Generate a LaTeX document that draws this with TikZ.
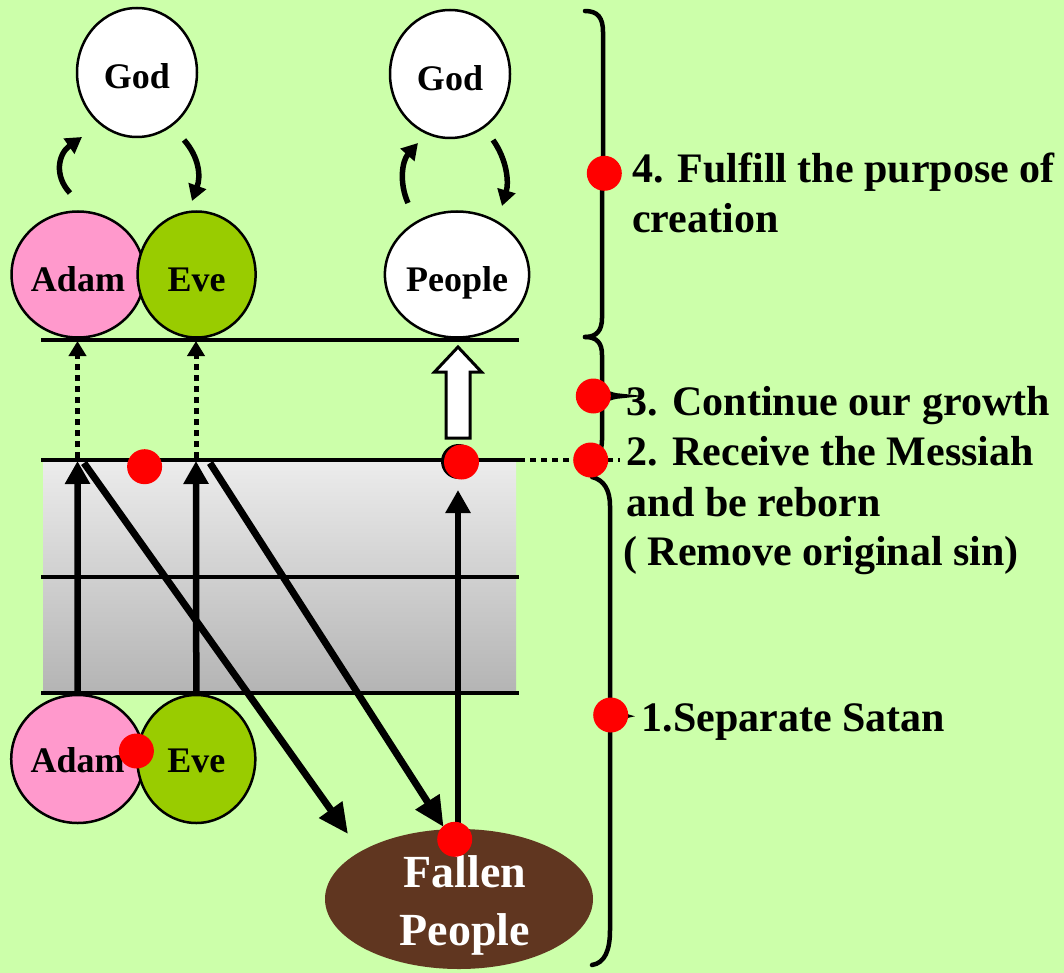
\documentclass[tikz,border=0pt]{standalone}
\usepackage{fontspec}
\setmainfont{Liberation Serif}
\usetikzlibrary{shapes.geometric,arrows.meta}
\definecolor{bg}{RGB}{204,255,170}
\definecolor{adampink}{RGB}{255,153,204}
\definecolor{evegreen}{RGB}{153,204,0}
\definecolor{fallenbrown}{RGB}{96,54,32}
\definecolor{bandtop}{RGB}{236,236,236}
\definecolor{bandbot}{RGB}{180,180,180}
\definecolor{dotred}{RGB}{255,0,0}
\tikzset{
  person/.style={ellipse, draw=black, line width=2.5pt, inner sep=0pt,
    minimum width=118pt, minimum height=126pt,
    font=\fontsize{36}{40}\selectfont\bfseries, text height=34pt, text depth=0pt},
  hline/.style={line width=4.5pt},
  curvearrow/.style={line width=5.5pt, -{Triangle[width=18pt,length=16pt]}},
  dotarrow/.style={line width=5pt, dash pattern=on 6pt off 5pt, -{Triangle[width=17pt,length=15pt]}},
  solidarrow/.style={line width=6.5pt, -{Triangle[width=24pt,length=23pt]}},
  diagarrow/.style={line width=7pt, -{Triangle[width=27pt,length=30pt]}},
  reddot/.style={circle, fill=dotred, inner sep=0pt, minimum size=35pt},
  bracestyle/.style={line width=4.5pt, line cap=round},
  sidetext/.style={anchor=base west, inner sep=0pt, font=\fontsize{42}{50}\selectfont\bfseries}
}
\begin{document}
\begin{tikzpicture}[x=1pt,y=-1pt]
\useasboundingbox (0,0) rectangle (1064,973);
\fill[bg] (0,0) rectangle (1064,973);

% gray band
\shade[top color=bandtop, bottom color=bandbot] (43,460) rectangle (516,693);

% nodes
\node[person, fill=white, minimum width=120pt, minimum height=129pt, text height=33pt] (godL) at (137,72.5) {God};
\node[person, fill=white, minimum width=120pt, minimum height=128pt, text height=33pt] (godR) at (450,74) {God};
\node[person, fill=adampink] (adamT) at (78,274.5) {Adam};
\node[person, fill=evegreen] (eveT) at (196.6,274.5) {Eve};
\node[person, fill=white] (peopleT) at (457,274.5) {People};
\node[person, fill=adampink, minimum height=128pt, text height=26pt] (adamB) at (77.7,759) {Adam};
\node[person, fill=evegreen, minimum height=128pt, text height=26pt] (eveB) at (196.3,759) {Eve};
\node[ellipse, fill=fallenbrown, inner sep=0pt, minimum width=268pt, minimum height=140pt] (fallen) at (459,899) {};
\node[anchor=base, inner sep=0pt, text=white, font=\fontsize{46}{58}\selectfont\bfseries] (fallenA) at (465,887) {Fallen};
\node[anchor=base, inner sep=0pt, text=white, font=\fontsize{46}{58}\selectfont\bfseries] (fallenB) at (465,945) {People};

% horizontal lines
\coordinate (l1a) at (41,340); \coordinate (l1b) at (519,340);
\coordinate (l2a) at (41,460); \coordinate (l2b) at (519,460);
\coordinate (l3a) at (41,577); \coordinate (l3b) at (519,577);
\coordinate (l4a) at (41,693); \coordinate (l4b) at (519,693);
\draw[hline] (l1a) -- (l1b);
\draw[hline] (l2a) -- (l2b);
\draw[hline] (l3a) -- (l3b);
\draw[hline] (l4a) -- (l4b);
\coordinate (dotend) at (620,460);
\draw[line width=4.5pt, dash pattern=on 6pt off 5pt] (l2b) -- (dotend);

% curved arrows between God and Adam/Eve/People
\draw[curvearrow] (70,193) .. controls (54,176) and (58,154) .. (82,137);
\draw[curvearrow] (184,140) .. controls (199,157) and (201,176) .. (192,201);
\draw[curvearrow] (408,203) .. controls (399,183) and (402,161) .. (418,143);
\draw[curvearrow] (493,140) .. controls (507,160) and (509,182) .. (502,206);

% dotted arrows
\coordinate (dA1) at (77.5,458); \coordinate (dA2) at (77.5,341);
\coordinate (dE1) at (196,458); \coordinate (dE2) at (196,341);
\draw[dotarrow] (dA1) -- (dA2);
\draw[dotarrow] (dE1) -- (dE2);

% solid up arrows
\coordinate (sA) at (77.5,461); \coordinate (sE) at (196,461);
\draw[solidarrow] (adamB.north) -- (sA);
\draw[solidarrow] (eveB.north) -- (sE);
\coordinate (sP1) at (458,828); \coordinate (sP2) at (458,490);
\draw[solidarrow] (sP1) -- (sP2);

% diagonal arrows
\coordinate (dg1s) at (84,463); \coordinate (dg1e) at (348,834);
\coordinate (dg2s) at (210,463); \coordinate (dg2e) at (443.6,827);
\draw[diagarrow] (dg1s) -- (dg1e);
\draw[diagarrow] (dg2s) -- (dg2e);

% white block arrow
\draw[line width=3pt, fill=white, line join=miter]
  (446,438) -- (446,372) -- (434.5,372) -- (458,347) -- (481.5,372) -- (470,372) -- (470,438) -- cycle;

% red dots
\node[circle, fill=black, inner sep=0pt, minimum size=35pt] (pdshadow) at (458.5,461.5) {};
\node[reddot] (pd) at (461.5,462) {};
\node[reddot] (d1) at (144.6,466.7) {};
\node[reddot] (d2) at (136.4,751) {};
\node[reddot] (d3) at (454.7,839.3) {};

% braces
\draw[bracestyle] (585,11) .. controls (598,11) and (603,18) .. (603,32) -- (603,155)
  .. controls (603,167) and (606,172) .. (613,174) .. controls (606,176) and (602,181) .. (602,193)
  -- (602,318) .. controls (602,330) and (597,337) .. (585,337);
\draw[bracestyle] (585,337) .. controls (597,337) and (602,343) .. (602,355) -- (602,383)
  .. controls (602,391) and (608,395) .. (622,396) .. controls (608,397) and (602,401) .. (602,409)
  -- (602,440) .. controls (602,450) and (598,458) .. (590,460);
\draw[bracestyle] (592,477) .. controls (604,480) and (610,490) .. (610,506) -- (610,700)
  .. controls (610,708) and (614,713) .. (626,716) .. controls (614,718) and (610,724) .. (610,732)
  -- (610,930) .. controls (610,950) and (605,963) .. (592,965);

\node[reddot] (r4) at (604.3,173.3) {};
\node[reddot] (r3) at (593.3,396) {};
\node[reddot] (r2) at (590.7,460) {};
\node[reddot] (r1) at (610.7,715) {};

% side texts
\node[sidetext] (t4a) at (632,183) {4. Fulfill the purpose of};
\node[sidetext] (t4b) at (632,233) {creation};
\node[sidetext] (t3) at (626.7,415) {3. Continue our growth};
\node[sidetext] (t2a) at (626.7,465) {2. Receive the Messiah};
\node[sidetext] (t2b) at (626.7,516.7) {and be reborn};
\node[sidetext] (t2c) at (623,565) {( Remove original sin)};
\node[sidetext] (t1) at (641.7,731.7) {1.Separate Satan};
\end{tikzpicture}
\end{document}
